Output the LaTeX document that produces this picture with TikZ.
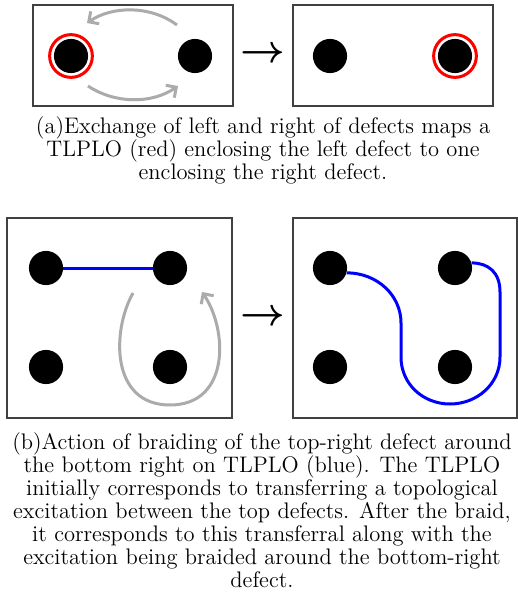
\documentclass[tikz,border=0pt]{standalone}
\usepackage{amsmath,amssymb}
\usepackage{xcolor}
\usepackage{tikz}
\usetikzlibrary{arrows.meta,positioning,calc}

\begin{document}
\begin{tikzpicture}[
    x=0.5333pt, y=-0.5333pt,
    defect/.style={circle, fill=black, minimum size=18.2pt, inner sep=0pt},
    loopred/.style={circle, draw=red, line width=1.6pt, minimum size=22.8pt, inner sep=0pt},
    panel/.style={draw=black!75, line width=0.8pt},
    tlplo/.style={draw=blue, line width=1.6pt},
    move/.style={draw=black!33, line width=1.6pt, -{Straight Barb[length=4pt,width=8pt]}},
    captxt/.style={align=center, font=\fontsize{12}{12.3}\selectfont},
    maps/.style={font=\huge\boldmath}
]
  \useasboundingbox (0,0) rectangle (518,600);

  % (a) exchange
  \draw[panel] (33,5) rectangle (233,106);
  \draw[panel] (293,5) rectangle (493,106);
  \node[defect] (aL) at (71,56) {};
  \node[defect] (aR) at (195,56) {};
  \node[defect] (bL) at (330,56) {};
  \node[defect] (bR) at (455,56) {};
  \node[loopred] (redA) at (aL) {};
  \node[loopred] (redB) at (bR) {};
  \draw[move] (177,25) .. controls (150,5) and (112,6) .. (87,23);
  \draw[move] (88,86) .. controls (115,104) and (152,104) .. (178,86);
  \node[maps] (mapA) at (263,55) {$\rightarrow$};

  \node[captxt] (capA) at (263,150) {(a)Exchange of left and right of defects maps a\\
    TLPLO (red) enclosing the left defect to one\\
    enclosing the right defect.};

  % (b) braiding
  \draw[panel] (7,218) rectangle (232,418);
  \draw[panel] (293,218) rectangle (517,418);
  \node[defect] (pTL) at (46,268) {};
  \node[defect] (pTR) at (170,268) {};
  \node[defect] (pBL) at (46,367) {};
  \node[defect] (pBR) at (170,367) {};
  \node[defect] (qTL) at (330,268) {};
  \node[defect] (qTR) at (455,268) {};
  \node[defect] (qBL) at (330,367) {};
  \node[defect] (qBR) at (455,367) {};

  \draw[tlplo] (pTL.east) -- (pTR.west);
  \draw[move] (133,293) .. controls (112,330) and (110,405) .. (170,405)
              .. controls (230,405) and (228,330) .. (202,292);
  \node[maps] (mapB) at (263,318) {$\rightarrow$};
  \draw[tlplo] (qTL.-16) .. controls (377,273) and (401,295) .. (401,323)
               -- (401,357) .. controls (401,384) and (423,404) .. (450,404)
               .. controls (477,404) and (500,384) .. (500,357)
               -- (500,292) .. controls (500,272) and (488,263) .. (qTR.17);

  \node[captxt] (capB) at (262,510) {(b)Action of braiding of the top-right defect around\\
    the bottom right on TLPLO (blue). The TLPLO\\
    initially corresponds to transferring a topological\\
    excitation between the top defects. After the braid,\\
    it corresponds to this transferral along with the\\
    excitation being braided around the bottom-right\\
    defect.};
\end{tikzpicture}
\end{document}
